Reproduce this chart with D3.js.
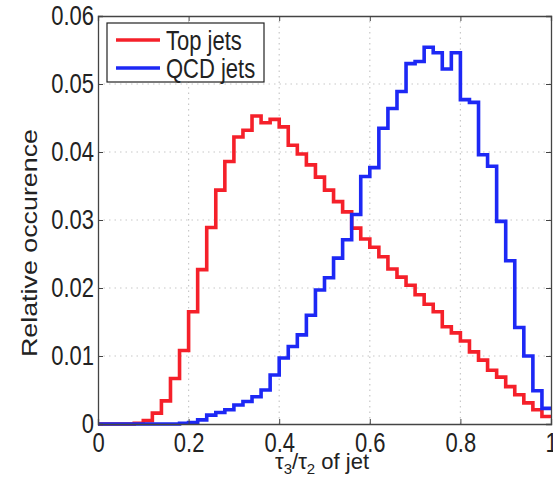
<!DOCTYPE html>
<html>
<head>
<meta charset="utf-8">
<script src="https://cdn.jsdelivr.net/npm/d3@7"></script>
<style>
  body { margin: 0; background: #fff; }
  svg { display: block; font-family: "Liberation Sans", Arial, sans-serif; }
</style>
</head>
<body>
<div id="chart"></div>
<script>
// bin edges: 50 bins of width 0.02 from 0 to 1
const binWidth = 0.02;

// Top jets, relative occurence per bin
const topJets = [
  0, 0, 0, 0, 0.0001, 0.0005, 0.0016, 0.0034, 0.0067, 0.0108,
  0.0165, 0.0227, 0.0289, 0.0344, 0.0386, 0.0422, 0.0432, 0.0453, 0.0443, 0.0448,
  0.0437, 0.0410, 0.0397, 0.0381, 0.0363, 0.0344, 0.0327, 0.0312, 0.0288, 0.0272,
  0.0260, 0.0246, 0.0228, 0.0216, 0.0204, 0.0190, 0.0176, 0.0165, 0.0143, 0.0134,
  0.0122, 0.0106, 0.0094, 0.0079, 0.0069, 0.0055, 0.0043, 0.0031, 0.0021, 0.0011
];

// QCD jets
const qcdJets = [
  0, 0, 0, 0, 0, 0, 0, 0, 0, 0.0001,
  0.0002, 0.0006, 0.0013, 0.0017, 0.0021, 0.0028, 0.0033, 0.0040, 0.0050, 0.0072,
  0.0097, 0.0114, 0.0131, 0.0160, 0.0197, 0.0215, 0.0244, 0.0271, 0.0308, 0.0364,
  0.0377, 0.0435, 0.0464, 0.0489, 0.0530, 0.0533, 0.0554, 0.0546, 0.0522, 0.0546,
  0.0477, 0.0473, 0.0396, 0.0379, 0.0298, 0.0240, 0.0142, 0.0100, 0.0049, 0.0023
];

const xTicks = [0, 0.2, 0.4, 0.6, 0.8, 1];
const yTicks = [0, 0.01, 0.02, 0.03, 0.04, 0.05, 0.06];

const series = [
  { name: "Top jets", values: topJets, color: "#f5202a" },
  { name: "QCD jets", values: qcdJets, color: "#1d28f5" }
];

const width = 553, height = 479;
const margin = { top: 16, right: 2, bottom: 55, left: 98 };
const fontSize = 22;
const stretch = 1.22; // the picture's text is a bit taller than wide

const svg = d3.select("#chart").append("svg")
  .attr("width", width)
  .attr("height", height);

const x = d3.scaleLinear().domain([0, 1]).range([margin.left, width - margin.right]);
const y = d3.scaleLinear().domain([0, 0.06]).range([height - margin.bottom, margin.top]);

// dotted grid
svg.append("g")
  .selectAll("line")
  .data(xTicks.slice(1, -1))
  .join("line")
  .attr("x1", d => x(d)).attr("x2", d => x(d))
  .attr("y1", y(0)).attr("y2", y(0.06))
  .attr("stroke", "#c8c8c8")
  .attr("stroke-width", 1.2)
  .attr("stroke-dasharray", "1.5,4");

svg.append("g")
  .selectAll("line")
  .data(yTicks.slice(1, -1))
  .join("line")
  .attr("x1", x(0)).attr("x2", x(1))
  .attr("y1", d => y(d)).attr("y2", d => y(d))
  .attr("stroke", "#c8c8c8")
  .attr("stroke-width", 1.2)
  .attr("stroke-dasharray", "1.5,4");

// step histograms
const line = d3.line()
  .x(d => x(d[0]))
  .y(d => y(d[1]))
  .curve(d3.curveStepAfter);

series.forEach(s => {
  const pts = s.values.map((v, i) => [i * binWidth, v]);
  pts.push([1, s.values[s.values.length - 1]]);
  svg.append("path")
    .datum(pts)
    .attr("fill", "none")
    .attr("stroke", s.color)
    .attr("stroke-width", 3.6)
    .attr("d", line);
});

// axes (ticks inward, mirrored)
const fmt = d3.format("~g");
const xAxisBottom = d3.axisBottom(x).tickValues(xTicks).tickSize(-5).tickFormat(fmt);
const xAxisTop = d3.axisTop(x).tickValues(xTicks).tickSize(-5).tickFormat("");
const yAxisLeft = d3.axisLeft(y).tickValues(yTicks).tickSize(-5).tickPadding(4).tickFormat(fmt);
const yAxisRight = d3.axisRight(y).tickValues(yTicks).tickSize(-5).tickFormat("");

const gxb = svg.append("g").attr("transform", `translate(0,${y(0)})`).call(xAxisBottom);
const gxt = svg.append("g").attr("transform", `translate(0,${y(0.06)})`).call(xAxisTop);
const gyl = svg.append("g").attr("transform", `translate(${x(0)},0)`).call(yAxisLeft);
const gyr = svg.append("g").attr("transform", `translate(${x(1)},0)`).call(yAxisRight);

[gxb, gxt, gyl, gyr].forEach(g => {
  g.select(".domain").attr("stroke", "#444").attr("stroke-width", 1.3);
  g.selectAll(".tick line").attr("stroke", "#444");
  g.selectAll(".tick text")
    .attr("fill", "#222")
    .attr("font-size", fontSize)
    .attr("font-family", "Liberation Sans, Arial, sans-serif");
});
gxb.selectAll(".tick text")
  .attr("y", 0)
  .attr("dy", "0.71em")
  .attr("transform", `translate(0,9) scale(1,${stretch})`);
gyl.selectAll(".tick text")
  .attr("transform", `scale(1,${stretch})`);

// axis labels
const xLabel = svg.append("text")
  .attr("transform", `translate(322,469)`)
  .attr("text-anchor", "middle")
  .attr("fill", "#222")
  .attr("font-size", fontSize);
xLabel.append("tspan").text("τ");
xLabel.append("tspan").attr("dy", 5).attr("font-size", 15).text("3");
xLabel.append("tspan").attr("dy", -5).text("/τ");
xLabel.append("tspan").attr("dy", 5).attr("font-size", 15).text("2");
xLabel.append("tspan").attr("dy", -5).text(" of jet");

svg.append("text")
  .attr("transform", `translate(37,243) scale(1,${stretch}) rotate(-90)`)
  .attr("text-anchor", "middle")
  .attr("fill", "#222")
  .attr("font-size", fontSize)
  .text("Relative occurence");

// legend
const legend = svg.append("g");
legend.append("rect")
  .attr("x", 107).attr("y", 23)
  .attr("width", 157).attr("height", 59)
  .attr("fill", "#fff")
  .attr("stroke", "#222")
  .attr("stroke-width", 1.2);

series.forEach((s, i) => {
  const ly = 40 + i * 28;
  legend.append("line")
    .attr("x1", 116).attr("x2", 160)
    .attr("y1", ly).attr("y2", ly)
    .attr("stroke", s.color)
    .attr("stroke-width", 3.6);
  legend.append("text")
    .attr("transform", `translate(166,${ly}) scale(1,${stretch})`)
    .attr("dy", "0.36em")
    .attr("fill", "#222")
    .attr("font-size", fontSize)
    .text(s.name);
});
</script>
</body>
</html>
